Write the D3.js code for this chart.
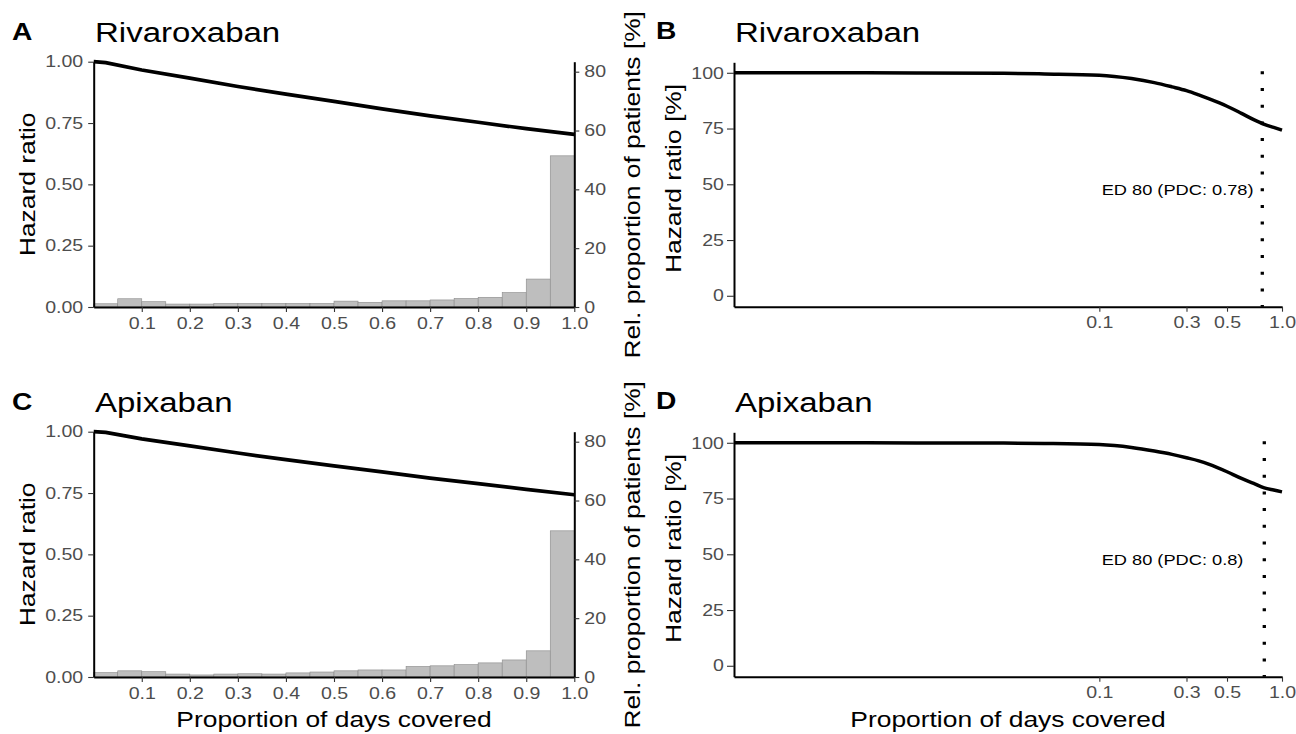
<!DOCTYPE html>
<html>
<head>
<meta charset="utf-8">
<script src="https://cdn.jsdelivr.net/npm/d3@7"></script>
<style>
  html, body { margin: 0; padding: 0; background: #fff; overflow: hidden; }
  svg { display: block; font-family: "Liberation Sans", Arial, sans-serif; }
</style>
</head>
<body>
<svg id="fig" width="1296" height="734"></svg>
<script>
// Adherence (PDC) vs hazard ratio, two drugs, linear + log panels

// histogram bins (left edge), width 0.05
const BIN_START = [0, 0.05, 0.1, 0.15, 0.2, 0.25, 0.3, 0.35, 0.4, 0.45,
  0.5, 0.55, 0.6, 0.65, 0.7, 0.75, 0.8, 0.85, 0.9, 0.95];
const BIN_W = 0.05;
const RIVA_PCT = [1.1, 2.8, 1.8, 1.0, 1.0, 1.2, 1.2, 1.2, 1.2, 1.2,
  2.0, 1.6, 2.1, 2.1, 2.4, 2.9, 3.3, 4.9, 9.5, 51.4];
const APIX_PCT = [1.5, 2.1, 1.8, 1.0, 0.7, 1.0, 1.1, 1.0, 1.4, 1.7,
  2.1, 2.4, 2.4, 3.6, 3.8, 4.2, 4.8, 5.8, 8.9, 49.7];

// hazard ratio curve, linear PDC axis
const HR_X = [0, 0.025, 0.1, 0.2, 0.3, 0.4, 0.5, 0.6, 0.7, 0.8, 0.9, 1.0];
const RIVA_HR = [1.0, 0.996, 0.966, 0.933, 0.899, 0.868, 0.838, 0.808, 0.779, 0.753, 0.727, 0.704];
const APIX_HR = [1.0, 0.997, 0.971, 0.942, 0.913, 0.886, 0.861, 0.836, 0.811, 0.788, 0.765, 0.743];

// hazard ratio [%] curve, log PDC axis
const LOG_X = [0.001, 0.003, 0.01, 0.03, 0.05, 0.1, 0.15, 0.2, 0.25, 0.3,
  0.35, 0.4, 0.5, 0.6, 0.7, 0.8, 0.9, 1.0];
const RIVA_HRP = [100, 100, 99.95, 99.8, 99.5, 98.9, 97.4, 95.6, 93.7, 92.0,
  90.1, 88.3, 85.0, 81.8, 79.0, 76.9, 75.5, 74.3];
const APIX_HRP = [100, 100, 99.95, 99.85, 99.7, 99.2, 97.9, 96.3, 94.8, 93.3,
  91.9, 90.3, 87.0, 84.0, 81.8, 79.8, 78.8, 78.0];

const ED80 = [0.78, 0.8];
const ED80_LABELS = ["ED 80 (PDC: 0.78)", "ED 80 (PDC: 0.8)"];
const DRUGS = ["Rivaroxaban", "Apixaban"];
const LETTERS = [["A", "B"], ["C", "D"]];

const LIN_TICKS = [0.1, 0.2, 0.3, 0.4, 0.5, 0.6, 0.7, 0.8, 0.9, 1.0];
const HR_TICKS = [0, 0.25, 0.5, 0.75, 1.0];
const PCT_TICKS = [0, 20, 40, 60, 80];
const LOG_TICKS = [0.1, 0.3, 0.5, 1.0];
const HRP_TICKS = [0, 25, 50, 75, 100];

const svg = d3.select("#fig");
const ROW_DY = 370;
const SX = 1.2; // the original's lettering runs a bit wide
const TICK_FS = 16.3, TITLE_FS = 27.5, AXT_FS = 22, LET_FS = 23.5, ANN_FS = 15.2;

function styleAxis(sel) {
  sel.select(".domain").attr("stroke", "#000").attr("stroke-width", 2);
  sel.selectAll(".tick line").attr("stroke", "#333").attr("stroke-width", 1.1);
  sel.selectAll(".tick text")
    .attr("font-size", TICK_FS)
    .attr("fill", "#4d4d4d")
    .each(function () {
      const t = d3.select(this);
      const x0 = +t.attr("x") || 0;
      t.attr("x", x0 / SX).attr("transform", `scale(${SX},1)`);
    });
}

function label(x, y, txt, size, opts = {}) {
  const rot = opts.rotate ? " rotate(-90)" : "";
  return svg.append("text")
    .attr("transform", `translate(${x},${y})${rot} scale(${SX},1)`)
    .attr("text-anchor", opts.anchor || "start")
    .attr("font-size", size)
    .attr("font-weight", opts.bold ? "bold" : null)
    .attr("dy", opts.dy || null)
    .text(txt);
}

function linearPanel(row) {
  const L = 93.7, T = 61.7 + row * ROW_DY, W = 480.6, H = 245.3;
  const barsPct = row === 0 ? RIVA_PCT : APIX_PCT;
  const hr = row === 0 ? RIVA_HR : APIX_HR;
  const g = svg.append("g").attr("transform", `translate(${L},${T})`);

  const x = d3.scaleLinear().domain([0, 1]).range([0, W]);
  const y = d3.scaleLinear().domain([0, 1]).range([H, 0]);
  const yR = d3.scaleLinear().domain([0, 83.4]).range([H, 0]);

  g.append("g").selectAll("rect")
    .data(BIN_START.map((b, i) => ({ b, v: barsPct[i] })))
    .join("rect")
    .attr("x", (d) => x(d.b))
    .attr("width", (d) => x(d.b + BIN_W) - x(d.b))
    .attr("y", (d) => yR(d.v))
    .attr("height", (d) => yR(0) - yR(d.v))
    .attr("fill", "#bebebe")
    .attr("stroke", "#8a8a8a")
    .attr("stroke-width", 0.6);

  const line = d3.line().x((d) => x(d[0])).y((d) => y(d[1]));
  g.append("path")
    .attr("d", line(HR_X.map((v, i) => [v, hr[i]])))
    .attr("fill", "none").attr("stroke", "#000").attr("stroke-width", 3.7);

  g.append("g").attr("transform", `translate(0,${H})`)
    .call(d3.axisBottom(x).tickValues(LIN_TICKS).tickFormat(d3.format(".1f"))
      .tickSize(5).tickSizeOuter(0).tickPadding(5))
    .call(styleAxis);
  g.append("g")
    .call(d3.axisLeft(y).tickValues(HR_TICKS).tickFormat(d3.format(".2f"))
      .tickSize(5.5).tickSizeOuter(0).tickPadding(5))
    .call(styleAxis);
  g.append("g").attr("transform", `translate(${W},0)`)
    .call(d3.axisRight(yR).tickValues(PCT_TICKS)
      .tickSize(5).tickSizeOuter(0).tickPadding(5))
    .call(styleAxis);

  label(12, 40 + row * ROW_DY, LETTERS[row][0], LET_FS, { bold: true });
  label(95, 42.3 + row * ROW_DY, DRUGS[row], TITLE_FS);
  label(35, T + H / 2, "Hazard ratio", AXT_FS, { rotate: true, anchor: "middle" });
  label(640, T + H / 2 + 0.5, "Rel. proportion of patients [%]", AXT_FS,
    { rotate: true, anchor: "middle" });
  if (row === 1) {
    label(L + W / 2, 727, "Proportion of days covered", AXT_FS, { anchor: "middle" });
  }
}

function logPanel(row) {
  const L = 734, T = 62.3 + row * ROW_DY, W = 548, H = 244.4;
  const hrp = row === 0 ? RIVA_HRP : APIX_HRP;
  const g = svg.append("g").attr("transform", `translate(${L},${T})`);

  const x = d3.scaleLog().domain([0.001, 1]).range([0, W]);
  const y = d3.scaleLinear().domain([-4.9, 104.7]).range([H, 0]);

  const line = d3.line().curve(d3.curveMonotoneX)
    .x((d) => x(d[0])).y((d) => y(d[1]));
  g.append("path")
    .attr("d", line(LOG_X.map((v, i) => [v, hrp[i]])))
    .attr("fill", "none").attr("stroke", "#000").attr("stroke-width", 3.5);

  g.append("line")
    .attr("x1", x(ED80[row])).attr("x2", x(ED80[row]))
    .attr("y1", y(100) - 1.5).attr("y2", y(-4.9))
    .attr("stroke", "#000").attr("stroke-width", 3.3)
    .attr("stroke-dasharray", "3 13.7");

  label(L + x(0.103), T + y(47.4), ED80_LABELS[row], ANN_FS, { dy: "0.35em" });

  g.append("g").attr("transform", `translate(0,${H})`)
    .call(d3.axisBottom(x).tickValues(LOG_TICKS).tickFormat(d3.format(".1f"))
      .tickSize(5).tickSizeOuter(0).tickPadding(5))
    .call(styleAxis);
  g.append("g")
    .call(d3.axisLeft(y).tickValues(HRP_TICKS)
      .tickSize(7).tickSizeOuter(0).tickPadding(3))
    .call(styleAxis);

  label(656, 39 + row * ROW_DY, LETTERS[row][1], LET_FS, { bold: true });
  label(735, 42.3 + row * ROW_DY, DRUGS[row], TITLE_FS);
  label(681, T + H / 2 - 6, "Hazard ratio [%]", AXT_FS, { rotate: true, anchor: "middle" });
  if (row === 1) {
    label(L + W / 2, 727, "Proportion of days covered", AXT_FS, { anchor: "middle" });
  }
}

[0, 1].forEach((r) => { linearPanel(r); logPanel(r); });
</script>
</body>
</html>
